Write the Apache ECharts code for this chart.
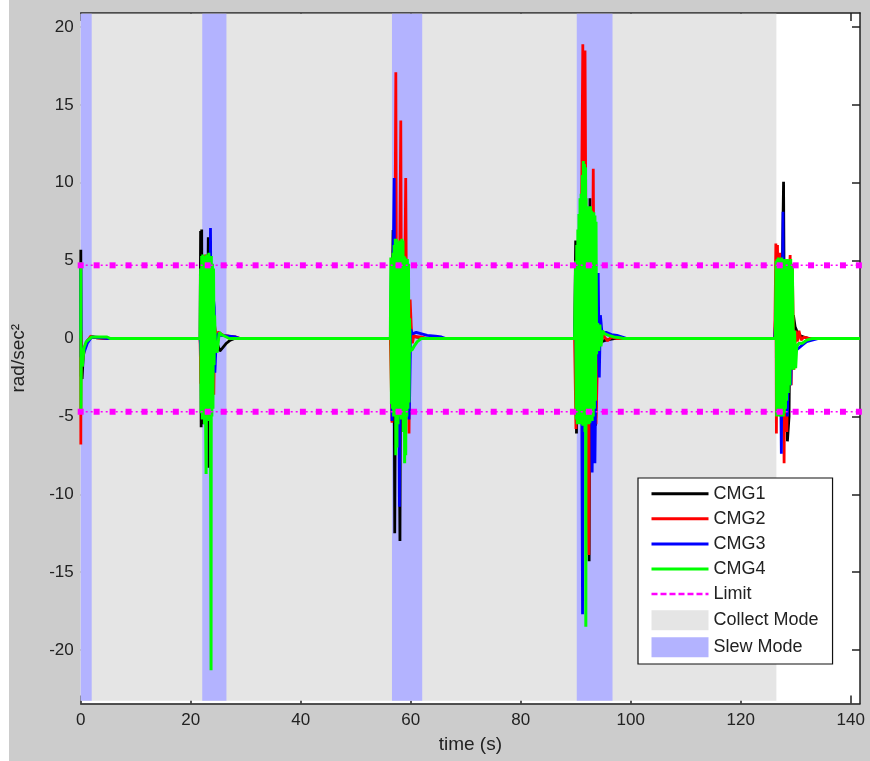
<!DOCTYPE html>
<html>
<head>
<meta charset="utf-8">
<script src="https://cdn.jsdelivr.net/npm/echarts@6/dist/echarts.min.js"></script>
<style>
html,body{margin:0;padding:0;background:#ffffff;}
#chart{position:absolute;left:9px;top:0;width:861px;height:761px;}
</style>
</head>
<body>
<div id="chart"></div>
<script>
// ---------------- data ----------------
const xTicks = [0, 20, 40, 60, 80, 100, 120, 140];
const yTicks = [-20, -15, -10, -5, 0, 5, 10, 15, 20];
const xRange = [0, 141.7];
const yRange = [-23.43, 20.9];

const limitValue = 4.7;
const limitTimes = [0,2.9,5.8,8.7,11.6,14.4,17.3,20.2,23.1,26.0,28.9,31.8,34.7,37.5,40.4,43.3,46.2,49.1,52.0,54.9,57.8,60.6,63.5,66.4,69.3,72.2,75.1,78.0,80.9,83.7,86.6,89.5,92.4,95.3,98.2,101.1,104.0,106.9,109.8,112.6,115.5,118.4,121.3,124.2,127.1,130.0,132.8,135.7,138.6,141.5];

const collectMode = [[0, 126.5]];
const slewMode = [[0, 2.0], [22.1, 26.5], [56.6, 62.1], [90.2, 96.7]];
const bandBottom = -23.25;
const bandTop = 20.85;

const cmg1 = [
 [0,0],[0.02,5.7],[0.08,-2.4],[0.25,-2.6],[0.45,-1.2],[0.8,-0.5],[1.3,-0.1],[2,0.1],[3,0.05],[5,0],
 [21.7,0],[21.8,6.9],[21.9,-5.7],[22.0,7.0],[22.1,-5.5],[22.2,5.0],[22.4,-3],[22.7,4],[23.0,-2],[23.2,6.5],[23.3,-8.3],[23.5,3],[23.7,-4],[24.0,2],[24.3,-1.5],[24.5,-0.6],[24.8,-0.3],[25.3,-0.8],[25.8,-0.6],[26.5,-0.3],[27.2,-0.1],[28,0],
 [56.3,0],[56.5,-0.5],[56.8,6.97],[57.0,-2],[57.1,-12.5],[57.3,3],[57.5,-6],[57.7,5.7],[57.9,-4],[58.05,-13.0],[58.2,4],[58.4,2.6],[58.6,-5],[58.8,3],[59.0,-3],[59.3,2],[59.6,-2],[59.9,0.5],[60.2,0.2],[61,0.1],[62,0.05],[63,0],
 [89.8,0],[90.0,6.3],[90.15,-6.1],[90.3,4],[90.5,-3],[90.8,5],[91.0,-4],[91.3,6],[91.5,-5],[91.8,7],[92.0,-4],[92.3,5],[92.45,-14.3],[92.6,9.0],[92.8,-4],[93.0,5],[93.3,-3],[93.6,-5.6],[93.8,-2.5],[94.0,2],[94.4,0.9],[94.7,-0.2],[95.5,-0.1],[97,0],
 [126.2,0],[126.5,3],[126.7,-3],[127.0,4],[127.3,-4],[127.6,5],[127.8,10.07],[128.0,-3],[128.2,4],[128.5,-6.6],[128.8,-5],[129.0,3],[129.3,-2],[129.6,1.5],[129.9,0.76],[130.2,0.5],[130.6,0.2],[131.5,0.1],[132.5,0],[141.7,0]
];

const cmg2 = [
 [0,0],[0.02,-6.8],[0.06,0.5],[0.3,-1.6],[0.6,-0.7],[1,-0.3],[1.8,0.15],[3,0.05],[5,0],
 [21.7,0],[21.85,-2.9],[21.95,3],[22.1,-2.5],[22.3,4],[22.5,-3],[22.7,5.4],[22.9,-2],[23.2,4],[23.5,-4],[23.8,3],[24.1,2.0],[24.2,-3.6],[24.35,0.8],[24.6,0.3],[25,0.4],[26,0.2],[27,0.15],[28.2,0.1],[29,0],
 [56.3,0],[56.6,-5.4],[56.8,3],[57.0,-4],[57.3,17.1],[57.45,-3],[57.6,6],[57.8,-4],[58.2,14.0],[58.35,-2],[58.5,5],[58.7,-4],[59.1,10.3],[59.3,-2],[59.5,3],[59.7,-6.1],[59.9,2.5],[60.1,0.8],[60.3,-0.3],[60.6,0.2],[61,0.1],[62,0.1],[63,0],
 [89.8,0],[90.05,-5.8],[90.2,-1.8],[90.4,4],[90.7,-4],[91.0,5],[91.3,18.9],[91.5,-3],[91.7,18.5],[91.9,4],[92.1,-5],[92.4,-13.9],[92.6,6],[92.9,-4],[93.2,10.9],[93.4,-3],[93.7,-5.5],[93.9,-2.5],[94.2,1],[94.6,-0.3],[95,0.2],[95.8,-0.15],[96.5,0.1],[97.5,0],
 [126.2,0],[126.4,6.1],[126.5,-6.1],[126.7,6.0],[126.9,-4],[127.1,5.5],[127.3,-5],[127.6,3],[127.9,-8.0],[128.1,4],[128.4,-6],[128.7,3],[129.0,5.36],[129.2,-3],[129.4,4.5],[129.7,-2],[130.0,0.5],[130.3,-0.2],[130.6,0.5],[131,-0.1],[131.5,0.1],[132.5,0],[141.7,0]
];

const cmg3 = [
 [0,0],[0.02,4.5],[0.06,-1.2],[0.3,-0.6],[0.7,-0.8],[1.2,-0.3],[2,0.1],[4,0.05],[5,0],
 [21.7,0],[21.9,-1.1],[22.0,3],[22.2,-3],[22.5,4],[22.8,-4],[23.1,5],[23.4,-3],[23.6,7.1],[23.8,-4],[24.0,3],[24.3,2.0],[24.4,-2.2],[24.6,-0.5],[24.9,0.3],[25.5,0.2],[27,0.15],[28.2,0.1],[29,0],
 [56.3,0],[56.5,5.0],[56.6,-5.3],[56.8,4],[57.0,10.3],[57.15,-4],[57.4,5],[57.6,-6],[57.8,4],[57.95,-10.8],[58.1,3],[58.3,-4],[58.5,4],[58.7,-3],[59.0,3],[59.3,-2],[59.5,2],[59.7,-5.2],[59.8,-4],[60.0,0.6],[60.3,0.3],[61,0.4],[62,0.3],[63,0.2],[64.5,0.15],[65.6,0.1],[66.4,0],
 [89.8,0],[90.0,2],[90.2,-5],[90.4,3],[90.7,-4],[91.0,5],[91.25,-17.7],[91.45,4],[91.7,9.3],[91.9,-3],[92.2,5],[92.5,-4],[92.8,4],[93.0,-8.6],[93.2,-1.4],[93.5,-8.0],[93.8,2],[94.1,4.2],[94.3,-2.5],[94.5,1.5],[94.8,0.3],[95.5,0.4],[96.5,0.25],[97.5,0.2],[98.5,0.1],[99.3,0],
 [126.2,0],[126.5,2],[126.8,-3],[127.1,3],[127.4,-7.4],[127.7,8.14],[127.9,-4],[128.2,3],[128.5,-5],[128.8,2],[129.1,-3],[129.4,1],[129.7,-0.5],[130.1,-0.74],[130.6,-0.6],[131.3,-0.4],[132,-0.2],[133,-0.1],[134,0],[141.7,0]
];

const cmg4 = [
 [0,0],[0.02,4.9],[0.05,-4.8],[0.1,-1.5],[0.3,-1.8],[0.6,-0.6],[1,-0.2],[2,0.1],[4.8,0.1],[5.4,0],
 [21.7,0],[21.8,4.5],[21.9,-4.8],[22.0,5.3],[22.1,-5.2],[22.2,5.4],[22.3,-5.0],[22.4,5.2],[22.5,-5.5],[22.6,5.3],[22.7,-4.5],[22.8,-8.7],[22.9,5.4],[23.0,-5.0],[23.1,5.2],[23.2,-5.3],[23.3,5.5],[23.4,-4.8],[23.5,5.0],[23.6,-5.5],[23.7,-21.3],[23.75,5.3],[23.85,-5],[23.95,4.8],[24.05,-4.5],[24.15,4.5],[24.25,-1.7],[24.35,1.5],[24.5,-0.5],[24.8,-0.9],[25.2,0.4],[25.6,0.25],[26.5,0.1],[27,0],
 [56.3,0],[56.4,5.2],[56.5,-4.2],[56.6,5.2],[56.7,-4.5],[56.8,5.5],[56.9,-5],[57.0,6.0],[57.1,-5],[57.2,6.4],[57.3,-7.5],[57.4,6.4],[57.5,-7.0],[57.6,6.2],[57.7,-5.5],[57.8,6.0],[57.9,-5],[58.0,6.3],[58.1,-5],[58.2,6.2],[58.3,-5.2],[58.4,6.4],[58.5,-5],[58.6,6.3],[58.7,-6],[58.8,5.3],[58.9,-8.0],[59.0,5.2],[59.1,-7.5],[59.2,5.0],[59.3,-5],[59.4,5.1],[59.5,-4.5],[59.6,4.8],[59.7,-4.1],[59.8,1.3],[59.9,-0.8],[60.3,-0.7],[60.7,-0.45],[61.2,-0.2],[61.9,0],
 [89.8,0],[90.0,5],[90.1,-5.2],[90.2,6],[90.3,-5.5],[90.4,7],[90.5,-5.3],[90.6,8],[90.7,-5.5],[90.8,9],[90.9,-5.4],[91.0,9.3],[91.1,-5.5],[91.2,10.5],[91.3,-5.6],[91.4,11.4],[91.5,-5.5],[91.6,11.2],[91.7,-6],[91.8,11.0],[91.85,-18.5],[91.9,9],[92.0,-5.5],[92.1,8.5],[92.2,-5.2],[92.3,8.5],[92.4,-5.5],[92.5,8.3],[92.6,-5.4],[92.7,8.5],[92.8,-5],[92.9,8.2],[93.0,-5.3],[93.1,8.0],[93.2,-5],[93.3,8.1],[93.4,-4.5],[93.5,7.9],[93.6,-4],[93.7,7.5],[93.8,-1],[94.0,1],[94.2,-0.8],[94.4,0.9],[94.6,-0.5],[94.9,0.5],[95.3,0.3],[96,0.2],[97,0.1],[98,0.05],[98.7,0],
 [126.3,0],[126.45,5.0],[126.55,-5.0],[126.65,5.1],[126.75,-5.0],[126.85,5.2],[126.95,-4.8],[127.05,5.1],[127.15,-5.0],[127.25,5.0],[127.35,-5.0],[127.45,5.2],[127.55,-4.9],[127.65,5.1],[127.75,-5.0],[127.85,5.0],[127.95,-4.8],[128.05,5.1],[128.15,-4.5],[128.25,5.0],[128.35,-4.0],[128.5,5.1],[128.65,-3.5],[128.8,5.0],[128.95,-3],[129.1,5.1],[129.25,-2.0],[129.4,4.8],[129.6,-2.0],[129.8,0.5],[130.0,-1.9],[130.2,-0.5],[130.6,-0.3],[131.2,-0.3],[132,-0.1],[133,0],[141.7,0]
];

// ---------------- chart ----------------
const FONT = "'Liberation Sans', Arial, sans-serif";
const TXT = '#222222';
const chart = echarts.init(document.getElementById('chart'), null, {renderer: 'canvas'});

function bandData(list) {
  return list.map(b => [{xAxis: b[0], yAxis: bandBottom}, {xAxis: b[1], yAxis: bandTop}]);
}
function cmgSeries(name, data, color, z, width) {
  return {
    name, type: 'line', data, symbol: 'none', showSymbol: false, z,
    lineStyle: {color, width}, itemStyle: {color},
    silent: true, animation: false, clip: true
  };
}
function limitSeries(sign) {
  return {
    name: 'Limit', type: 'line', z: 8, silent: true, animation: false,
    data: limitTimes.map(t => [t, sign * limitValue]),
    symbol: 'rect', symbolSize: 6, showSymbol: true,
    lineStyle: {color: '#ff00ff', width: 1.5, type: [2, 3]},
    itemStyle: {color: '#ff00ff', borderWidth: 0}
  };
}

const axisCommonX = {
  type: 'value', min: xRange[0], max: xRange[1],
  axisLine: {show: true, onZero: false, lineStyle: {color: '#222', width: 1.5}},
  axisTick: {show: true, inside: true, length: 8, customValues: xTicks, lineStyle: {color: '#222', width: 1.5}},
  splitLine: {show: false}
};
const axisCommonY = {
  type: 'value', min: yRange[0], max: yRange[1],
  axisLine: {show: true, onZero: false, lineStyle: {color: '#222', width: 1.5}},
  axisTick: {show: true, inside: true, length: 8, customValues: yTicks, lineStyle: {color: '#222', width: 1.5}},
  splitLine: {show: false}
};

const option = {
  backgroundColor: '#cccccc',
  animation: false,
  textStyle: {fontFamily: FONT},
  grid: {left: 71.7, right: 10, top: 13, bottom: 57.5, show: true, backgroundColor: '#ffffff', borderWidth: 0, containLabel: false, outerBoundsMode: 'none'},
  xAxis: [
    Object.assign({}, axisCommonX, {
      position: 'bottom',
      name: 'time (s)', nameLocation: 'middle', nameGap: 32,
      nameTextStyle: {color: TXT, fontSize: 19, fontFamily: FONT},
      axisLabel: {show: true, customValues: xTicks, color: TXT, fontSize: 17, fontFamily: FONT, margin: 8}
    }),
    Object.assign({}, axisCommonX, {position: 'top', axisLabel: {show: false}})
  ],
  yAxis: [
    Object.assign({}, axisCommonY, {
      position: 'left',
      axisLine: {show: false},
      name: 'rad/sec²', nameLocation: 'middle', nameGap: 52, nameRotate: 90,
      nameTextStyle: {color: TXT, fontSize: 19, fontFamily: FONT},
      axisLabel: {show: true, customValues: yTicks, color: TXT, fontSize: 17, fontFamily: FONT, margin: 7}
    }),
    Object.assign({}, axisCommonY, {position: 'right', axisLabel: {show: false}})
  ],
  legend: {
    orient: 'vertical', left: 629, top: 478,
    itemWidth: 57, itemHeight: 20, itemGap: 7.1,
    padding: [6.7, 14, 6.7, 12],
    backgroundColor: '#ffffff', borderColor: '#111111', borderWidth: 1.2,
    selectedMode: false,
    textStyle: {color: TXT, fontSize: 18, fontFamily: FONT},
    data: [
      {name: 'CMG1', itemStyle: {opacity: 0}, lineStyle: {width: 3}},
      {name: 'CMG2', itemStyle: {opacity: 0}, lineStyle: {width: 3}},
      {name: 'CMG3', itemStyle: {opacity: 0}, lineStyle: {width: 3}},
      {name: 'CMG4', itemStyle: {opacity: 0}, lineStyle: {width: 3}},
      {name: 'Limit', itemStyle: {opacity: 0}, lineStyle: {type: [6, 3], width: 2.5, color: '#ff00ff'}},
      {name: 'Collect Mode', icon: 'rect', itemStyle: {borderWidth: 0, color: '#e5e5e5'}},
      {name: 'Slew Mode', icon: 'rect', itemStyle: {borderWidth: 0, color: '#b3b3ff'}}
    ]
  },
  series: [
    {
      name: 'Collect Mode', type: 'line', data: [], z: 1, silent: true,
      itemStyle: {color: '#e5e5e5'}, lineStyle: {color: '#e5e5e5'},
      markArea: {silent: true, label: {show: false}, itemStyle: {color: '#e5e5e5', opacity: 1, borderWidth: 0},
        emphasis: {disabled: true}, data: bandData(collectMode)}
    },
    {
      name: 'Slew Mode', type: 'line', data: [], z: 1, silent: true,
      itemStyle: {color: '#b3b3ff'}, lineStyle: {color: '#b3b3ff'},
      markArea: {silent: true, label: {show: false}, itemStyle: {color: '#b3b3ff', opacity: 1, borderWidth: 0},
        emphasis: {disabled: true}, data: bandData(slewMode)}
    },
    cmgSeries('CMG1', cmg1, '#000000', 3, 2.8),
    cmgSeries('CMG2', cmg2, '#ff0000', 4, 2.8),
    cmgSeries('CMG3', cmg3, '#0000ff', 5, 2.8),
    cmgSeries('CMG4', cmg4, '#00ff00', 6, 3),
    limitSeries(1),
    limitSeries(-1)
  ]
};
chart.setOption(option);
</script>
</body>
</html>
